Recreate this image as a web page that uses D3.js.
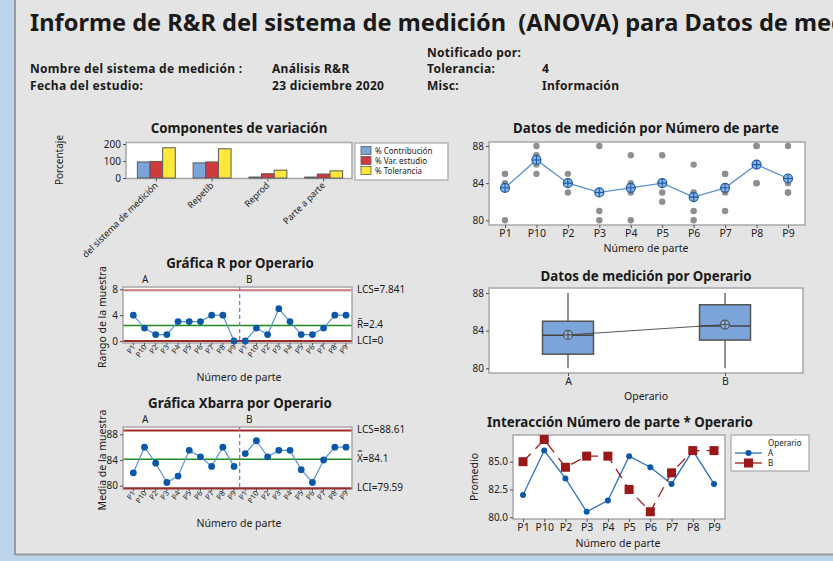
<!DOCTYPE html>
<html>
<head>
<meta charset="utf-8">
<script src="https://cdn.jsdelivr.net/npm/d3@7"></script>
<style>
  body { margin: 0; background: #bcd3ec; }
  svg { display: block; font-family: "Noto Sans", "Open Sans", sans-serif; }
</style>
</head>
<body>
<svg id="chart" width="833" height="561"></svg>
<script>
// raw measurements, part order as Minitab sorts it
const parts = ["P1", "P10", "P2", "P3", "P4", "P5", "P6", "P7", "P8", "P9"];
const operators = ["A", "B"];
const opA_trial1 = [80, 85, 83, 80, 80, 84, 83, 81, 84, 83];
const opA_trial2 = [84, 87, 84, 81, 83, 87, 86, 85, 88, 83];
const opB_trial1 = [85, 86, 84, 83, 84, 82, 80, 83, 84, 84];
const opB_trial2 = [85, 88, 85, 88, 87, 83, 81, 85, 88, 88];

// components of variation (%)
const components = ["del sistema de medición", "Repetib", "Reprod", "Parte a parte"];
const compSeries = ["% Contribución", "% Var. estudio", "% Tolerancia"];
const pctContribucion = [94.5, 89.0, 5.5, 5.5];
const pctVarEstudio = [97.5, 94.5, 25.0, 23.5];
const pctTolerancia = [178, 172, 46, 42];

// control limits
const rLimits = [7.841, 2.4, 0];
const rLimitLabels = ["LCS=7.841", "R\u0304=2.4", "LCI=0"];
const xbarLimits = [88.61, 84.1, 79.59];
const xbarLimitLabels = ["LCS=88.61", "X\u033F=84.1", "LCI=79.59"];

const svg = d3.select("#chart");
const FONT = '"Noto Sans", "Open Sans", sans-serif';
const TITLE = 13.3;

// page background and window frame
svg.append("rect").attr("x", 16).attr("y", 0).attr("width", 817).attr("height", 554).attr("fill", "#e4e4e4");
svg.append("line").attr("x1", 15).attr("x2", 15).attr("y1", 0).attr("y2", 555).attr("stroke", "#9a9a9a").attr("stroke-width", 2);
svg.append("line").attr("x1", 15).attr("x2", 833).attr("y1", 554.5).attr("y2", 554.5).attr("stroke", "#9a9a9a").attr("stroke-width", 2);

function text(x, y, s, size, opts = {}) {
  return svg.append("text")
    .attr("x", x).attr("y", y)
    .attr("font-size", size)
    .attr("font-weight", opts.bold ? "bold" : "normal")
    .attr("text-anchor", opts.anchor || "start")
    .attr("dominant-baseline", opts.baseline || "auto")
    .attr("fill", opts.fill || "#1a1a1a")
    .attr("letter-spacing", opts.spacing || null)
    .style("white-space", "pre")
    .text(s);
}

function frame(x0, y0, x1, y1) {
  svg.append("rect").attr("x", x0).attr("y", y0).attr("width", x1 - x0).attr("height", y1 - y0)
    .attr("fill", "#fff").attr("stroke", "#a8a8a8").attr("stroke-width", 1.5);
}

function yAxis(x, scale, ticks, fmt) {
  const g = svg.append("g").attr("transform", `translate(${x},0)`)
    .call(d3.axisLeft(scale).tickValues(ticks).tickSize(3).tickPadding(2).tickFormat(fmt || d3.format("d")));
  g.attr("font-family", FONT).attr("font-size", 10);
  g.select(".domain").remove();
  g.selectAll("line").attr("stroke", "#555");
  g.selectAll("text").attr("fill", "#222");
  return g;
}

function xAxis(y, scale, opts = {}) {
  const g = svg.append("g").attr("transform", `translate(0,${y})`)
    .call(d3.axisBottom(scale).tickSize(3).tickPadding(2).tickFormat(opts.fmt || (d => d)));
  g.attr("font-family", FONT).attr("font-size", opts.size || 10);
  g.select(".domain").remove();
  g.selectAll("line").attr("stroke", "#555");
  g.selectAll("text").attr("fill", "#222");
  return g;
}

function yLabel(x, y, s, size) {
  text(0, 0, s, size || 10.5, { anchor: "middle" }).attr("transform", `translate(${x},${y}) rotate(-90)`);
}

function meanMarker(x, y, r, fill, stroke) {
  svg.append("circle").attr("cx", x).attr("cy", y).attr("r", r).attr("fill", fill).attr("stroke", stroke).attr("stroke-width", 1.2);
  svg.append("path").attr("d", `M${x - r},${y}H${x + r}M${x},${y - r}V${y + r}`).attr("stroke", stroke).attr("stroke-width", 1.1);
}

// ---------- header ----------
text(30, 31, "Informe de R&R del sistema de medición  (ANOVA) para Datos de medición", 23.6, { bold: true });
const hdr = { bold: true, spacing: 0.3 };
text(427, 56.5, "Notificado por:", 12, hdr);
text(30, 73, "Nombre del sistema de medición :", 12, hdr);
text(272, 73, "Análisis R&R", 12, hdr);
text(427, 73, "Tolerancia:", 12, hdr);
text(542, 73, "4", 12, hdr);
text(30, 89.5, "Fecha del estudio:", 12, hdr);
text(272, 89.5, "23 diciembre 2020", 12, hdr);
text(427, 89.5, "Misc:", 12, hdr);
text(542, 89.5, "Información", 12, hdr);

// ---------- derived statistics ----------
const meanA = parts.map((p, i) => (opA_trial1[i] + opA_trial2[i]) / 2);
const meanB = parts.map((p, i) => (opB_trial1[i] + opB_trial2[i]) / 2);
const rangeA = parts.map((p, i) => Math.abs(opA_trial2[i] - opA_trial1[i]));
const rangeB = parts.map((p, i) => Math.abs(opB_trial2[i] - opB_trial1[i]));
const partMean = parts.map((p, i) => (meanA[i] + meanB[i]) / 2);
const sequence = [...parts.map(p => "A" + p), ...parts.map(p => "B" + p)];
const seqRange = [...rangeA, ...rangeB];
const seqMean = [...meanA, ...meanB];

// ---------- Componentes de variación ----------
text(239, 133, "Componentes de variación", TITLE, { bold: true, anchor: "middle" });
frame(126, 142.5, 352, 178.5);
const yComp = d3.scaleLinear().domain([0, 200]).range([178, 144]);
const xComp = d3.scaleBand().domain(components).range([129, 351]).paddingInner(0.32).paddingOuter(0.15);
const xSub = d3.scaleBand().domain(compSeries).range([0, xComp.bandwidth()]);
const compColors = ["#7ba4d8", "#d0393e", "#ffe83a"];
const compValues = [pctContribucion, pctVarEstudio, pctTolerancia];
compSeries.forEach((s, k) => {
  svg.append("g").selectAll("rect").data(components).join("rect")
    .attr("x", d => xComp(d) + xSub(s))
    .attr("y", (d, i) => yComp(compValues[k][i]))
    .attr("width", xSub.bandwidth())
    .attr("height", (d, i) => yComp(0) - yComp(compValues[k][i]))
    .attr("fill", compColors[k]).attr("stroke", "#5a5a5a").attr("stroke-width", 1);
});
yAxis(126, yComp, [0, 100, 200]);
svg.append("g").selectAll("line").data(components).join("line")
  .attr("x1", d => xComp(d) + xComp.bandwidth() / 2).attr("x2", d => xComp(d) + xComp.bandwidth() / 2)
  .attr("y1", 178.5).attr("y2", 181.5).attr("stroke", "#555");
components.forEach(c => {
  const cx = xComp(c) + xComp.bandwidth() / 2 + 2;
  text(0, 0, c, 9, { anchor: "end" }).attr("transform", `translate(${cx},${186}) rotate(-45)`);
});
yLabel(63, 160, "Porcentaje", 10);
// legend
svg.append("rect").attr("x", 355).attr("y", 143).attr("width", 93).attr("height", 37)
  .attr("fill", "#fff").attr("stroke", "#a8a8a8").attr("stroke-width", 1.2);
compSeries.forEach((s, k) => {
  svg.append("rect").attr("x", 361).attr("y", 146.5 + k * 10).attr("width", 10).attr("height", 8)
    .attr("fill", compColors[k]).attr("stroke", "#5a5a5a").attr("stroke-width", 0.8);
  text(375, 154 + k * 10, s, 8);
});

// ---------- Datos de medición por Número de parte ----------
text(646, 133, "Datos de medición por Número de parte", TITLE, { bold: true, anchor: "middle" });
frame(489, 142, 805, 225);
const yPart = d3.scaleLinear().domain([80, 88]).range([220.3, 146]);
const xPart = d3.scalePoint().domain(parts).range([505, 788]);
const allObs = [];
parts.forEach((p, i) => {
  [opA_trial1[i], opA_trial2[i], opB_trial1[i], opB_trial2[i]].forEach(v => allObs.push({ p, v }));
});
svg.append("g").selectAll("circle").data(allObs).join("circle")
  .attr("cx", d => xPart(d.p)).attr("cy", d => yPart(d.v)).attr("r", 3.2).attr("fill", "#8f8f8f");
svg.append("path").datum(parts)
  .attr("d", d3.line().x(p => xPart(p)).y((p, i) => yPart(partMean[i])))
  .attr("fill", "none").attr("stroke", "#5a93d2").attr("stroke-width", 1.3);
parts.forEach((p, i) => meanMarker(xPart(p), yPart(partMean[i]), 4.5, "#8bb4e2", "#1d5aa6"));
yAxis(489, yPart, [80, 84, 88]);
xAxis(225, xPart, { size: 10.5 });
text(646, 252, "Número de parte", 10.5, { anchor: "middle" });

// ---------- Gráfica R / Xbarra por Operario ----------
function controlChart(cfg) {
  text(240, cfg.titleY, cfg.title, TITLE, { bold: true, anchor: "middle" });
  frame(123, cfg.top, 352, cfg.bottom);
  const y = cfg.y;
  const x = d3.scalePoint().domain(sequence).range([133.3, 346]);
  cfg.limits.forEach((v, k) => {
    svg.append("line").attr("x1", 123.5).attr("x2", 351.5).attr("y1", y(v)).attr("y2", y(v))
      .attr("stroke", k === 1 ? "#1e8c1e" : (cfg.lcsColor && k === 0 ? cfg.lcsColor : "#9e2a2a"))
      .attr("stroke-width", k === 1 ? 1.5 : 2);
    text(357, y(v), cfg.limitLabels[k], 10, { baseline: "middle" });
  });
  const divX = (x(sequence[9]) + x(sequence[10])) / 2;
  svg.append("line").attr("x1", divX).attr("x2", divX).attr("y1", cfg.top).attr("y2", cfg.bottom)
    .attr("stroke", "#9a6ad6").attr("stroke-width", 1.3).attr("stroke-dasharray", "4,3");
  text(142, cfg.top - 4, "A", 10);
  text(246, cfg.top - 4, "B", 10);
  [sequence.slice(0, 10), sequence.slice(10)].forEach((seg, s) => {
    svg.append("path").datum(seg)
      .attr("d", d3.line().x(d => x(d)).y((d, i) => y(cfg.values[s * 10 + i])))
      .attr("fill", "none").attr("stroke", "#5a93d2").attr("stroke-width", 1.2);
  });
  svg.append("g").selectAll("circle").data(sequence).join("circle")
    .attr("cx", d => x(d)).attr("cy", (d, i) => y(cfg.values[i])).attr("r", 3.4).attr("fill", "#0c58a8");
  yAxis(123, y, cfg.ticks);
  svg.append("g").selectAll("line").data(sequence).join("line")
    .attr("x1", d => x(d)).attr("x2", d => x(d)).attr("y1", cfg.bottom).attr("y2", cfg.bottom + 2.5).attr("stroke", "#555");
  sequence.forEach(d => {
    text(0, 0, d.slice(1), 7.5, { anchor: "end" })
      .attr("transform", `translate(${x(d) + 2.5},${cfg.bottom + 4}) rotate(-55)`);
  });
  yLabel(106, (cfg.top + cfg.bottom) / 2 + 2, cfg.yTitle);
  text(239, cfg.bottom + 38, "Número de parte", 10.5, { anchor: "middle" });
}

controlChart({
  title: "Gráfica R por Operario", titleY: 268, top: 287, bottom: 343,
  y: d3.scaleLinear().domain([0, 8]).range([341, 289.3]),
  ticks: [0, 4, 8], limits: rLimits, limitLabels: rLimitLabels, lcsColor: "#c47878",
  values: seqRange, yTitle: "Rango de la muestra"
});

controlChart({
  title: "Gráfica Xbarra por Operario", titleY: 408, top: 427, bottom: 489,
  y: d3.scaleLinear().domain([80, 88]).range([485.7, 434.3]),
  ticks: [80, 84, 88], limits: xbarLimits, limitLabels: xbarLimitLabels,
  values: seqMean, yTitle: "Media de la muestra"
});

// ---------- Datos de medición por Operario ----------
text(646, 281, "Datos de medición por Operario", TITLE, { bold: true, anchor: "middle" });
frame(489, 288, 803, 373);
const yOp = d3.scaleLinear().domain([80, 88]).range([368.3, 293]);
const xOp = d3.scalePoint().domain(operators).range([568, 725]);
const opData = [
  [...opA_trial1, ...opA_trial2].sort(d3.ascending),
  [...opB_trial1, ...opB_trial2].sort(d3.ascending)
];
function quart(s, p) {
  const pos = p * (s.length + 1), lo = Math.floor(pos), f = pos - lo;
  return s[lo - 1] + f * (s[lo] - s[lo - 1]);
}
const boxW = 51;
const opMeans = opData.map(d => d3.mean(d));
opData.forEach((s, k) => {
  const cx = xOp(operators[k]);
  const q1 = quart(s, 0.25), q2 = quart(s, 0.5), q3 = quart(s, 0.75);
  svg.append("line").attr("x1", cx).attr("x2", cx).attr("y1", yOp(d3.min(s))).attr("y2", yOp(d3.max(s)))
    .attr("stroke", "#555").attr("stroke-width", 1.3);
  svg.append("rect").attr("x", cx - boxW / 2).attr("y", yOp(q3)).attr("width", boxW).attr("height", yOp(q1) - yOp(q3))
    .attr("fill", "#7ba4d8").attr("stroke", "#555").attr("stroke-width", 1.5);
  svg.append("line").attr("x1", cx - boxW / 2).attr("x2", cx + boxW / 2).attr("y1", yOp(q2)).attr("y2", yOp(q2))
    .attr("stroke", "#444").attr("stroke-width", 1.5);
});
svg.append("line").attr("x1", xOp("A")).attr("x2", xOp("B")).attr("y1", yOp(opMeans[0])).attr("y2", yOp(opMeans[1]))
  .attr("stroke", "#444").attr("stroke-width", 0.9);
operators.forEach((o, k) => meanMarker(xOp(o), yOp(opMeans[k]), 4.5, "#8bb4e2", "#555"));
yAxis(489, yOp, [80, 84, 88]);
xAxis(373, xOp, { size: 10.5 });
text(646, 400, "Operario", 10.5, { anchor: "middle" });

// ---------- Interacción Número de parte * Operario ----------
text(620, 427, "Interacción Número de parte * Operario", TITLE, { bold: true, anchor: "middle" });
frame(513, 435, 725, 519);
const yInt = d3.scaleLinear().domain([80, 85]).range([517.3, 461.7]);
const xInt = d3.scalePoint().domain(parts).range([523, 714]);
svg.append("path").datum(meanA)
  .attr("d", d3.line().x((d, i) => xInt(parts[i])).y(d => yInt(d)))
  .attr("fill", "none").attr("stroke", "#2e72c0").attr("stroke-width", 1.3);
svg.append("path").datum(meanB)
  .attr("d", d3.line().x((d, i) => xInt(parts[i])).y(d => yInt(d)))
  .attr("fill", "none").attr("stroke", "#a01a1a").attr("stroke-width", 1.3).attr("stroke-dasharray", "11,7");
svg.append("g").selectAll("circle").data(meanA).join("circle")
  .attr("cx", (d, i) => xInt(parts[i])).attr("cy", d => yInt(d)).attr("r", 3).attr("fill", "#0c58a8");
svg.append("g").selectAll("rect").data(meanB).join("rect")
  .attr("x", (d, i) => xInt(parts[i]) - 4.5).attr("y", d => yInt(d) - 4.5)
  .attr("width", 9).attr("height", 9).attr("fill", "#9b1818");
yAxis(513, yInt, [80, 82.5, 85], d3.format(".1f"));
xAxis(519, xInt, { size: 10.5 });
yLabel(478, 477, "Promedio");
text(618, 547, "Número de parte", 10.5, { anchor: "middle" });
// legend
svg.append("rect").attr("x", 731).attr("y", 435).attr("width", 78).attr("height", 36)
  .attr("fill", "#fff").attr("stroke", "#a8a8a8").attr("stroke-width", 1.2);
text(768, 446, "Operario", 8);
svg.append("line").attr("x1", 735).attr("x2", 762).attr("y1", 453).attr("y2", 453).attr("stroke", "#2e72c0").attr("stroke-width", 1.3);
svg.append("circle").attr("cx", 748.5).attr("cy", 453).attr("r", 3).attr("fill", "#0c58a8");
text(768, 456, "A", 8);
svg.append("line").attr("x1", 735).attr("x2", 762).attr("y1", 463).attr("y2", 463).attr("stroke", "#a01a1a").attr("stroke-width", 1.3);
svg.append("rect").attr("x", 744).attr("y", 458.5).attr("width", 9).attr("height", 9).attr("fill", "#9b1818");
text(768, 466, "B", 8);
</script>
</body>
</html>
